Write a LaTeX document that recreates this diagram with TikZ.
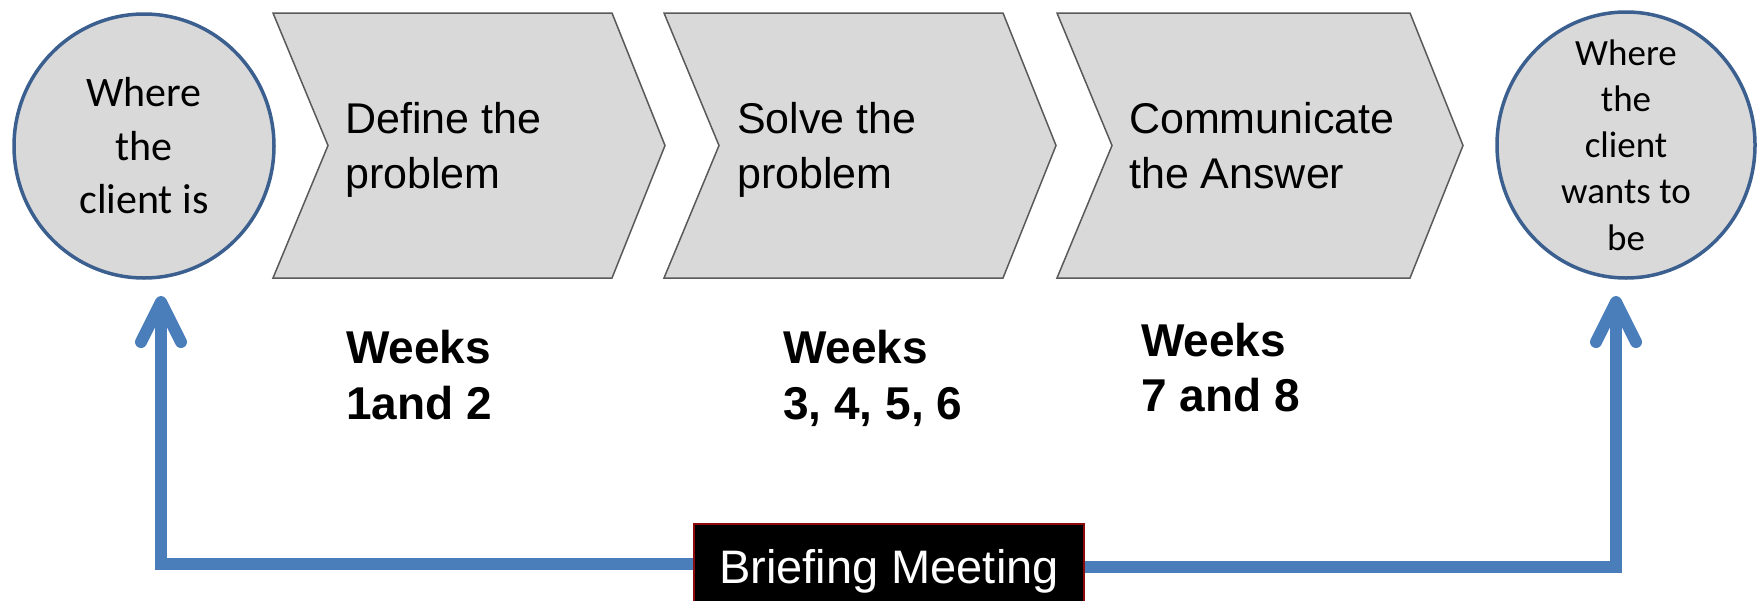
\documentclass[tikz,border=0pt]{standalone}
\usepackage{fontspec}
\setmainfont{Liberation Sans}
\newfontfamily\calfont{Carlito}
\usetikzlibrary{shapes.geometric, arrows.meta, positioning}

\definecolor{shapegray}{HTML}{D9D9D9}
\definecolor{chevline}{HTML}{595959}
\definecolor{ringblue}{HTML}{3B5F8E}
\definecolor{flowblue}{HTML}{4A7EBB}
\definecolor{briefred}{HTML}{8B0A0A}

\tikzstyle{client} = [ellipse, draw=ringblue, line width=3.5pt, fill=shapegray, inner sep=0pt]
\tikzstyle{clienttext} = [align=center, inner sep=0pt]
\tikzstyle{chevron} = [draw=chevline, line width=1.5pt, fill=shapegray]
\tikzstyle{steptext} = [anchor=north west, align=left, inner sep=0pt, font=\fontsize{43}{55}\selectfont]
\tikzstyle{weeks} = [anchor=north west, align=left, inner sep=0pt, font=\bfseries\fontsize{46}{56}\selectfont]
\tikzstyle{meeting} = [rectangle, draw=briefred, line width=2pt, fill=black, text=white, font=\fontsize{47}{56}\selectfont, minimum width=390pt, text height=34pt, text depth=10pt, inner ysep=25pt]
\tikzstyle{arrow} = [line width=12pt, draw=flowblue, -{Straight Barb[length=40pt, width=40pt, round]}]

\begin{document}
\begin{tikzpicture}[x=1pt, y=-1pt]

\useasboundingbox (0,0) rectangle (1761,600);

% Chevrons
\foreach \x/\w in {273/339, 664/339, 1057/353}
  \filldraw [chevron] (\x,13) -- ++(\w,0) -- ++(53,132.5) -- ++(-53,132.5) -- (\x,278) -- ++(55,-132.5) -- cycle;

% Nodes
\node (client) [client, minimum width=260pt, minimum height=264pt] at (144,146) {};
\node (clientlbl) [clienttext, font=\calfont\fontsize{42}{53.5}\selectfont] at (client.center) {Where\\the\\client is};
\node (goal) [client, minimum width=258pt, minimum height=266pt] at (1626,145) {};
\node (goallbl) [clienttext, font=\calfont\fontsize{37}{46.2}\selectfont] at (goal.center) {Where\\the\\client\\wants to\\be};

\node (define) [steptext] at (345,102) {Define the\\problem};
\node (solve) [steptext] at (737,102) {Solve the\\problem};
\node (answer) [steptext] at (1129,102) {Communicate\\the Answer};

\node (weeksa) [weeks] at (346,330) {Weeks\\1and 2};
\node (weeksb) [weeks] at (783,330) {Weeks\\3, 4, 5, 6};
\node (weeksc) [weeks, font=\bfseries\fontsize{46}{55}\selectfont] at (1141,323) {Weeks\\7 and 8};

\node (brief) [meeting, anchor=base] at (889,583) {Briefing Meeting};

\coordinate (clientin) at (161,296);
\coordinate (goalin) at (1616,296);

% Arrows
\draw [arrow] ([yshift=7pt]brief.west) -| (clientin);
\draw [arrow] ([yshift=4pt]brief.east) -| (goalin);

\end{tikzpicture}
\end{document}
